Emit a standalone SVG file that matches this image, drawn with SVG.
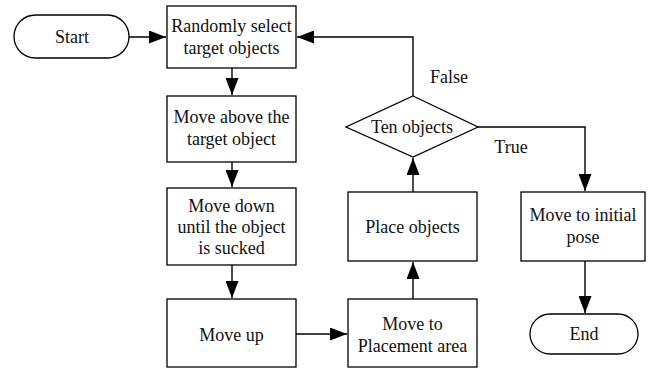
<svg xmlns="http://www.w3.org/2000/svg" width="656" height="369" viewBox="0 0 656 369">
<style>
.n{fill:#fff;stroke:#000;stroke-width:1.3}
.t{font-family:"Liberation Serif","Times New Roman",serif;font-size:18px;fill:#111;text-anchor:middle}
.c{fill:none;stroke:#000;stroke-width:1.4}
</style>
<defs>
<marker id="ah" markerUnits="userSpaceOnUse" markerWidth="18" markerHeight="13" refX="17" refY="6.5" orient="auto">
<path d="M0,0 L17,6.5 L0,13 Z" fill="#000"/>
</marker>
</defs>
<rect width="656" height="369" fill="#fff"/>
<g id="connectors">
<path class="c" d="M129,37 H166" marker-end="url(#ah)"/>
<path class="c" d="M232,68 V95" marker-end="url(#ah)"/>
<path class="c" d="M232,162 V187" marker-end="url(#ah)"/>
<path class="c" d="M232,265 V298" marker-end="url(#ah)"/>
<path class="c" d="M296,334 H347" marker-end="url(#ah)"/>
<path class="c" d="M413,299 V262" marker-end="url(#ah)"/>
<path class="c" d="M413,192 V158" marker-end="url(#ah)"/>
<path class="c" d="M413,96 V37 H297" marker-end="url(#ah)"/>
<path class="c" d="M478,127 H585 V191" marker-end="url(#ah)"/>
<path class="c" d="M585,261 V313" marker-end="url(#ah)"/>
<text class="t" x="449" y="83">False</text>
<text class="t" x="511" y="153">True</text>
</g>
<g id="start">
<rect class="n" x="14" y="15" width="115" height="43" rx="21.5"/>
<text class="t" x="72" y="43">Start</text>
</g>
<g id="select">
<rect class="n" x="167" y="6" width="129" height="62"/>
<text class="t" x="231.5" y="32">Randomly select</text>
<text class="t" x="231.5" y="54">target objects</text>
</g>
<g id="above">
<rect class="n" x="167" y="96" width="129" height="66"/>
<text class="t" x="231.5" y="123">Move above the</text>
<text class="t" x="231.5" y="145">target object</text>
</g>
<g id="down">
<rect class="n" x="167" y="188" width="129" height="77"/>
<text class="t" x="231.5" y="212">Move down</text>
<text class="t" x="231.5" y="233">until the object</text>
<text class="t" x="231.5" y="254">is sucked</text>
</g>
<g id="up">
<rect class="n" x="167" y="299" width="129" height="68"/>
<text class="t" x="231.5" y="341">Move up</text>
</g>
<g id="placement">
<rect class="n" x="348" y="299" width="129" height="68"/>
<text class="t" x="412.5" y="330">Move to</text>
<text class="t" x="412.5" y="352">Placement area</text>
</g>
<g id="place">
<rect class="n" x="348" y="192" width="129" height="69"/>
<text class="t" x="412.5" y="233">Place objects</text>
</g>
<g id="decision">
<polygon class="n" points="413,96 478,127 413,157 346,127"/>
<text class="t" x="412" y="133">Ten objects</text>
</g>
<g id="initial">
<rect class="n" x="521" y="192" width="124" height="69"/>
<text class="t" x="583" y="221">Move to initial</text>
<text class="t" x="583" y="243">pose</text>
</g>
<g id="end">
<rect class="n" x="530" y="314" width="108" height="40" rx="20"/>
<text class="t" x="584" y="340">End</text>
</g>
</svg>
